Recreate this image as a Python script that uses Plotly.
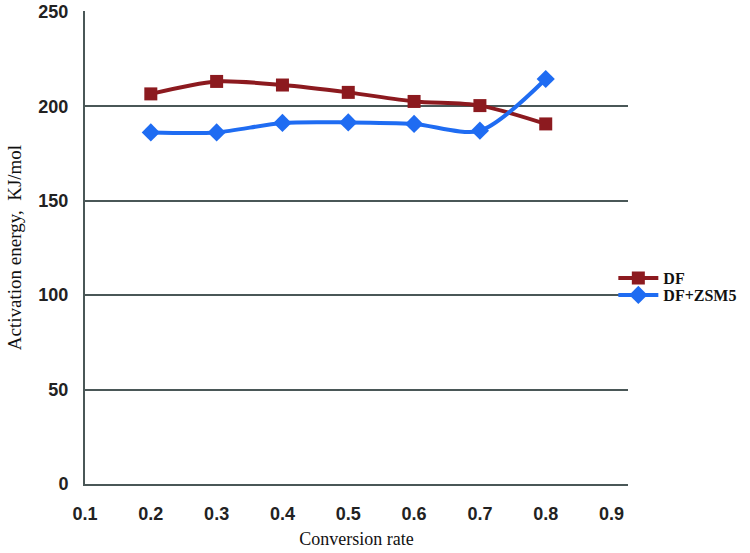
import plotly.graph_objects as go

conversion = [0.2, 0.3, 0.4, 0.5, 0.6, 0.7, 0.8]
df_energy = [206.6, 213.2, 211.3, 207.4, 202.6, 200.4, 190.7]
zsm5_energy = [186.2, 186.2, 191.2, 191.5, 190.7, 187.1, 214.5]
x_ticks = [0.1, 0.2, 0.3, 0.4, 0.5, 0.6, 0.7, 0.8, 0.9]
y_ticks = [0, 50, 100, 150, 200, 250]

grid_col = "#4a5757"
fig = go.Figure()
fig.add_trace(go.Scatter(
    x=conversion, y=df_energy, name="DF", mode="lines+markers", legend="legend",
    line=dict(color="#8c1a1f", width=4, shape="spline", smoothing=0.8),
    marker=dict(symbol="square", size=13, color="#8c1a1f"),
))
fig.add_trace(go.Scatter(
    x=conversion, y=zsm5_energy, name="DF+ZSM5", mode="lines+markers", legend="legend2",
    line=dict(color="#1f6cf2", width=4, shape="spline", smoothing=0.8),
    marker=dict(symbol="diamond", size=14, color="#1f6cf2"),
))

leg_font = dict(family="Liberation Serif", size=16, color="#111", weight="bold")
fig.update_layout(
    width=750, height=553,
    margin=dict(l=85, r=122, t=11, b=69, autoexpand=False),
    paper_bgcolor="white", plot_bgcolor="white",
    showlegend=True,
    legend=dict(x=0.973, xanchor="left", y=0.4355, yanchor="middle", font=leg_font,
                itemwidth=40, bgcolor="rgba(0,0,0,0)"),
    legend2=dict(x=0.973, xanchor="left", y=0.3996, yanchor="middle", font=leg_font,
                 itemwidth=40, bgcolor="rgba(0,0,0,0)"),
    xaxis=dict(range=[0.1, 0.925], tickvals=x_ticks, ticktext=[f"{v:.1f}" for v in x_ticks],
               showgrid=False, zeroline=False, showline=True, linecolor=grid_col, linewidth=2,
               ticks="", ticklabelstandoff=12, automargin=False, ticklabeloverflow="allow",
               tickfont=dict(family="Liberation Sans", size=18, color="#222", weight="bold"),
               title=dict(text="Conversion rate", standoff=10,
                          font=dict(family="Liberation Serif", size=18, color="#111"))),
    yaxis=dict(range=[0, 250.5], tickvals=y_ticks,
               showgrid=True, gridcolor=grid_col, gridwidth=2, zeroline=False,
               showline=True, linecolor=grid_col, linewidth=2,
               ticks="", ticklabelstandoff=11, automargin=False, ticklabeloverflow="allow",
               tickfont=dict(family="Liberation Sans", size=18, color="#222", weight="bold"),
               title=dict(text="Activation energy,  KJ/mol", standoff=12,
                          font=dict(family="Liberation Serif", size=19, color="#111"))),
)
fig.write_html("out.html", config={"displayModeBar": False},
               post_script="document.body.style.margin='0';")
